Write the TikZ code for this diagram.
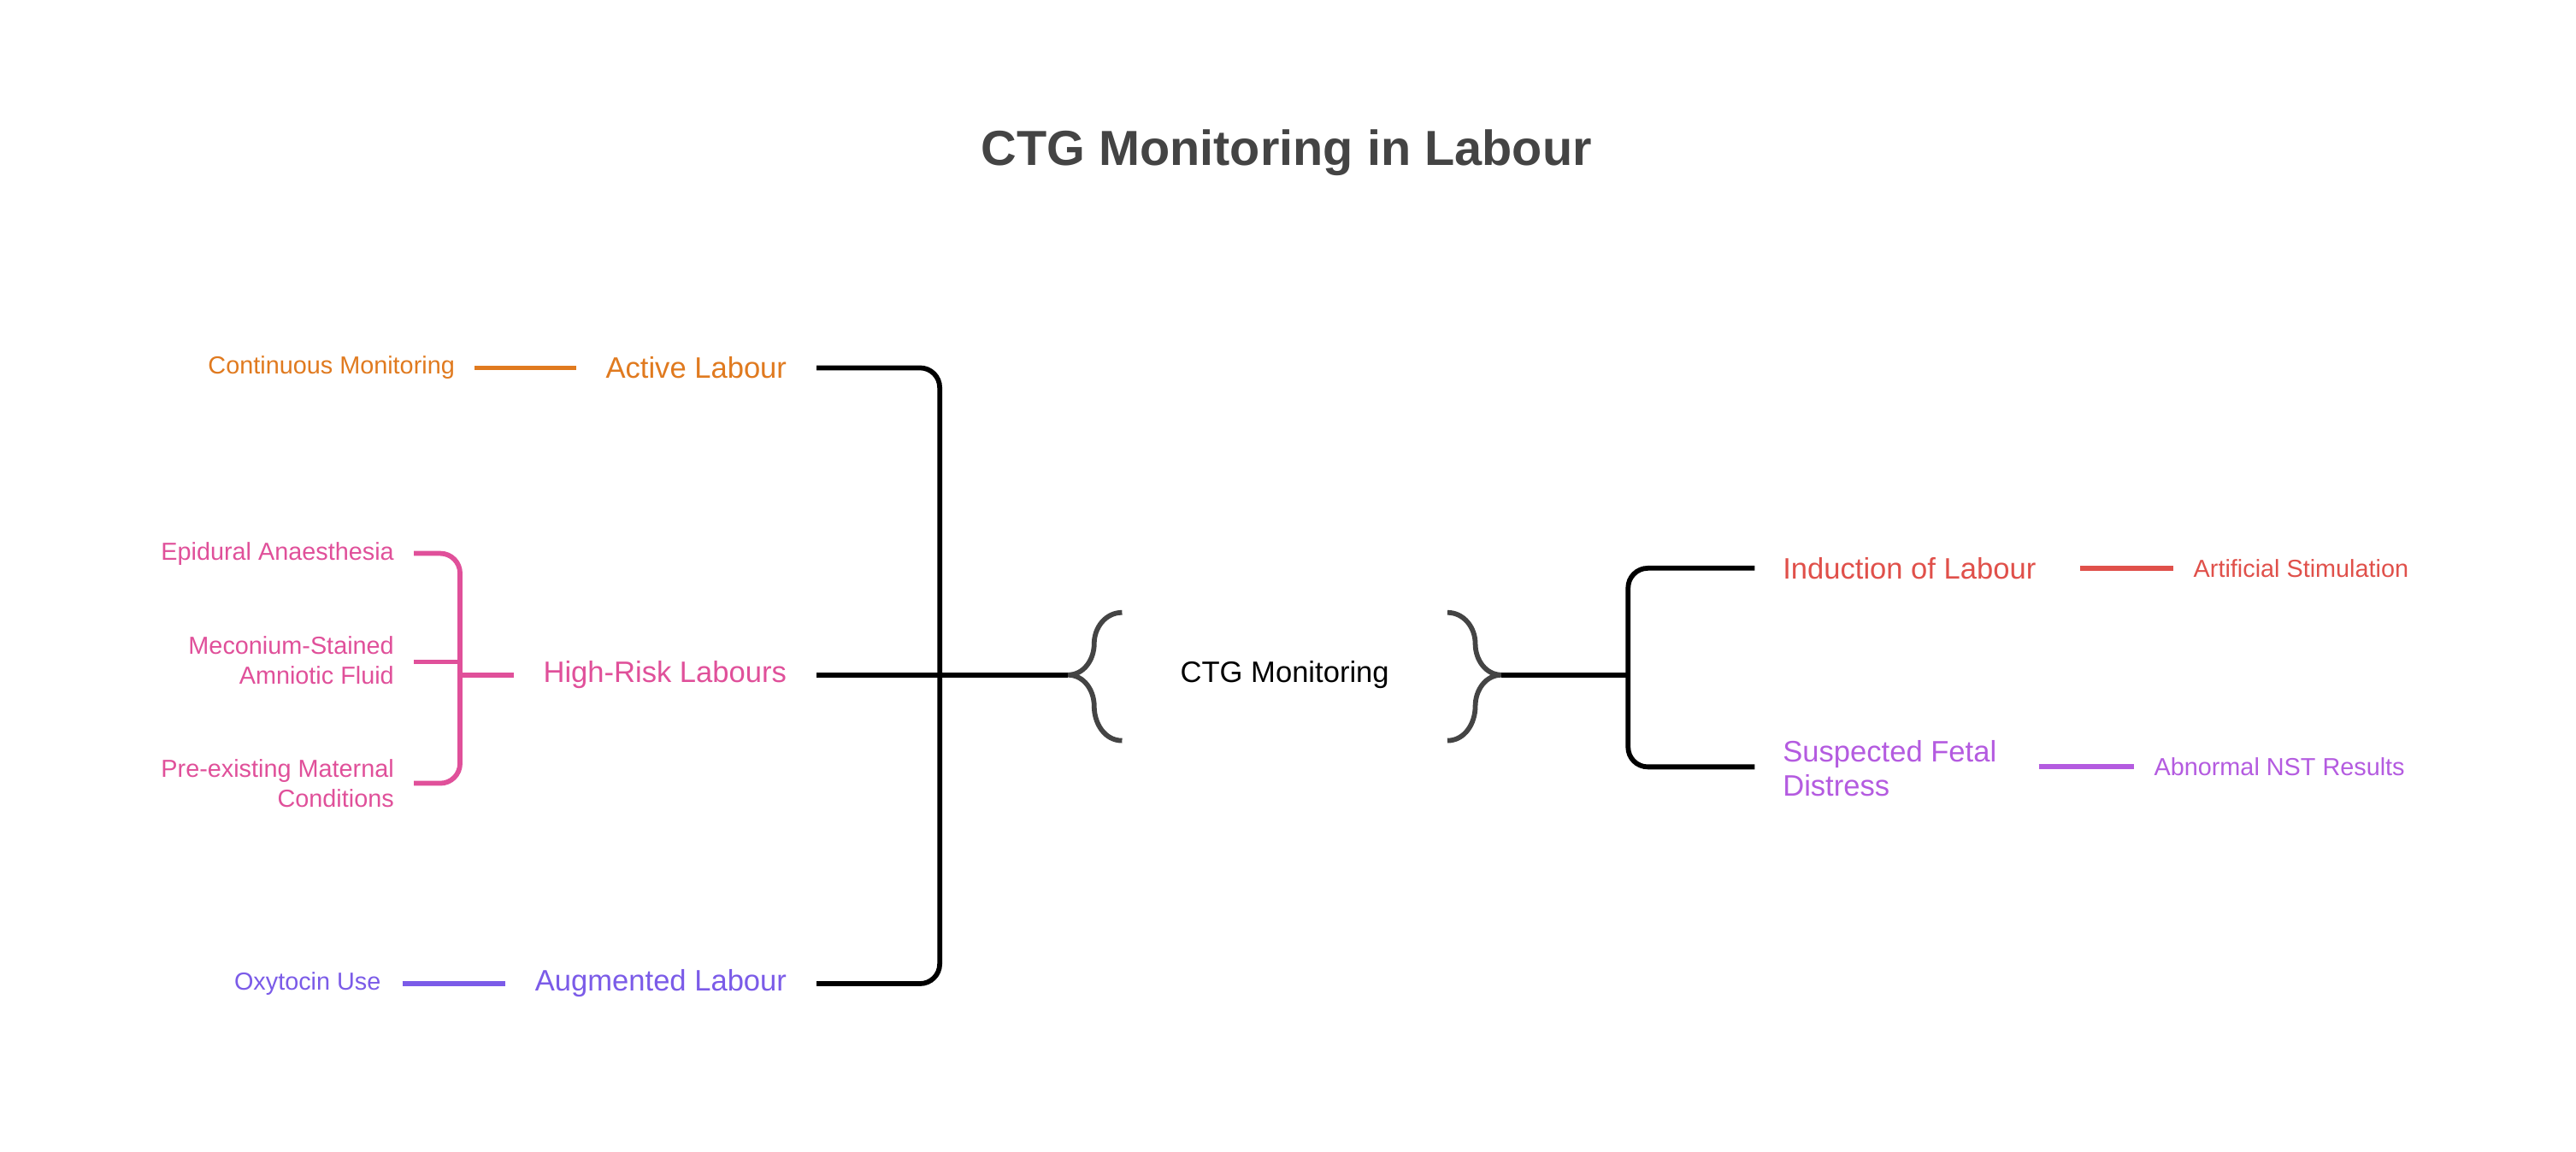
\documentclass[tikz,border=0pt]{standalone}
\usepackage{fontspec}
\setmainfont{Liberation Sans}
\definecolor{orng}{HTML}{E07A1F}
\definecolor{pnk}{HTML}{E0509A}
\definecolor{vio}{HTML}{7B5BE8}
\definecolor{rd}{HTML}{E0504A}
\definecolor{prp}{HTML}{B45BE0}
\definecolor{gry}{HTML}{444444}
\begin{document}
\begin{tikzpicture}[x=1pt,y=-1pt,
  big/.style={font=\fontsize{18}{21}\selectfont,inner sep=0pt},
  small/.style={font=\fontsize{15}{18}\selectfont,inner sep=0pt,align=right},
  ln/.style={line width=3pt},
  br/.style={line width=3pt,rounded corners=12pt}]
\useasboundingbox[fill=white] (0,0) rectangle (1568,701);
\node[font=\bfseries\fontsize{30}{34}\selectfont,text=gry] (title) at (783,93) {CTG Monitoring in Labour};
% center
\node[font=\fontsize{18}{21}\selectfont] (ctg) at (782,411) {CTG Monitoring};
\coordinate (lb) at (650,411);
\coordinate (rb) at (914,411);
\draw[gry,line width=3pt] (683,373) to[out=180,in=90] (666,392) to[out=-90,in=0] (lb) to[out=0,in=90] (666,430) to[out=-90,in=180] (683,451);
\draw[gry,line width=3pt] (881,373) to[out=0,in=90] (898,392) to[out=-90,in=180] (rb) to[out=180,in=90] (898,430) to[out=-90,in=0] (881,451);
% left
\node[big,text=orng,anchor=east] (act) at (479,224) {Active Labour};
\node[big,text=pnk,anchor=east] (hr) at (479,411) {High-Risk Labours};
\node[big,text=vio,anchor=east] (aug) at (479,599) {Augmented Labour};
\draw[br] ([xshift=18pt]act.east) -| (572,411) |- ([xshift=18pt]aug.east);
\draw[ln] ([xshift=18pt]hr.east) -- (lb);
\node[small,text=orng,anchor=east] (cm) at (277,224) {Continuous Monitoring};
\draw[ln,orng] ([xshift=12pt]cm.east) -- ([xshift=-18pt]act.west);
\node[small,text=vio,anchor=east] (oxy) at (232,599) {Oxytocin Use};
\draw[ln,vio] ([xshift=13pt]oxy.east) -- ([xshift=-18pt]aug.west);
\node[small,text=pnk,anchor=east] (ep) at (240,337) {Epidural Anaesthesia};
\node[small,text=pnk,anchor=east] (mec) at (240,402) {Meconium-Stained\\Amniotic Fluid};
\node[small,text=pnk,anchor=east] (pre) at (240,477) {Pre-existing Maternal\\Conditions};
\draw[pnk,br] (252,337) -| (280,411) |- (252,477);
\draw[pnk,ln] (252,403) -- (280,403);
\draw[pnk,ln] (280,411) -- ([xshift=-18pt]hr.west);
% right
\node[big,text=rd,anchor=west] (ind) at (1085,346) {Induction of Labour};
\node[big,text=prp,anchor=west,align=left] (sus) at (1085,468) {Suspected Fetal\\Distress};
\draw[ln] (rb) -- (991,411);
\draw[br] ([xshift=-17pt]ind.west) -| (991,411) |- (1068,467);
\node[small,text=rd,anchor=west] (art) at (1335,346) {Artificial Stimulation};
\draw[ln,rd] (1266,346) -- ([xshift=-12pt]art.west);
\node[small,text=prp,anchor=west] (nst) at (1311,467) {Abnormal NST Results};
\draw[ln,prp] (1241,467) -- ([xshift=-12pt]nst.west);
\end{tikzpicture}
\end{document}
